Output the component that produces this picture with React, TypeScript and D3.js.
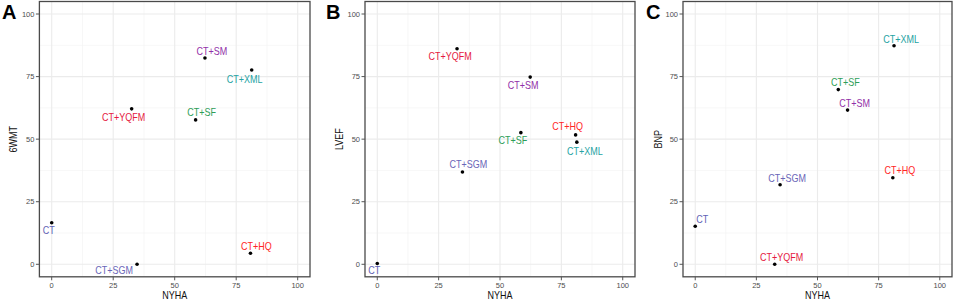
import React from "react";
import * as d3 from "d3";

const groups = ["CT", "CT+SGM", "CT+HQ", "CT+YQFM", "CT+SF", "CT+SM", "CT+XML"];
const groupColors = ["#6262B5", "#6A66B8", "#FF2626", "#E5193F", "#2E9E58", "#9230A8", "#25A3A3"];
const nyha = [0, 34.7, 80.8, 32.5, 58.5, 62.3, 81.3];
const sixMWT = [16.6, 0, 4.4, 62.1, 57.7, 82.4, 77.6];
const lvef = [0.3, 36.9, 51.7, 86.1, 52.6, 74.8, 48.8];
const bnp = [15.2, 31.8, 34.6, 0, 69.8, 61.6, 87.3];
const ticks = [0, 25, 50, 75, 100];
const minorTicks = [12.5, 37.5, 62.5, 87.5];

// label nudges in pixels (layout only)
const nudgeA: [number, number][] = [[-3, 8], [-23, 6], [6, -7], [-8, 9], [6, -7], [7, -7], [-7, 9]];
const nudgeB: [number, number][] = [[-3, 7], [6, -7], [-8, -8], [-7, 8], [-8, 8], [-7, 8], [8, 9]];
const nudgeC: [number, number][] = [[7, -7], [7, -6], [7, -7], [7, -7], [7, -7], [7, -7], [7, -6]];

const panels = [
  { letter: "A", yTitle: "6WMT", values: sixMWT, nudge: nudgeA, left: 39.4, right: 310, letterX: 2, titleX: 13 },
  { letter: "B", yTitle: "LVEF", values: lvef, nudge: nudgeB, left: 365, right: 635, letterX: 326, titleX: 339 },
  { letter: "C", yTitle: "BNP", values: bnp, nudge: nudgeC, left: 683, right: 952, letterX: 646, titleX: 658 },
];

const top = 1.5;
const bottom = 276.8;
const font = "Liberation Sans, Arial, sans-serif";
const sx = 0.9;

function Panel({ p }: { p: typeof panels[number] }) {
  const x = d3.scaleLinear().domain([-5, 105]).range([p.left, p.right]);
  const y = d3.scaleLinear().domain([-5, 105]).range([bottom, top]);
  return (
    <g>
      <rect x={p.left} y={top} width={p.right - p.left} height={bottom - top} fill="#fff" />
      {minorTicks.map((t) => (
        <g key={"m" + t}>
          <line x1={x(t)} x2={x(t)} y1={top} y2={bottom} stroke="#F2F2F2" strokeWidth={0.6} />
          <line x1={p.left} x2={p.right} y1={y(t)} y2={y(t)} stroke="#F2F2F2" strokeWidth={0.6} />
        </g>
      ))}
      {ticks.map((t) => (
        <g key={"M" + t}>
          <line x1={x(t)} x2={x(t)} y1={top} y2={bottom} stroke="#EBEBEB" strokeWidth={1.1} />
          <line x1={p.left} x2={p.right} y1={y(t)} y2={y(t)} stroke="#EBEBEB" strokeWidth={1.1} />
        </g>
      ))}
      <rect x={p.left} y={top} width={p.right - p.left} height={bottom - top} fill="none" stroke="#4A4A4A" strokeWidth={1.3} />
      {ticks.map((t) => (
        <g key={"t" + t}>
          <line x1={p.left - 3.5} x2={p.left} y1={y(t)} y2={y(t)} stroke="#555" strokeWidth={1} />
          <text x={p.left - 5} y={y(t)} dy="0.35em" textAnchor="end" fontSize={7.5} fill="#4D4D4D" fontFamily={font}>{t}</text>
          <line x1={x(t)} x2={x(t)} y1={bottom} y2={bottom + 3.5} stroke="#555" strokeWidth={1} />
          <text x={x(t)} y={bottom + 8.5} dy="0.35em" textAnchor="middle" fontSize={7.5} fill="#4D4D4D" fontFamily={font}>{t}</text>
        </g>
      ))}
      <text transform={`translate(${(p.left + p.right) / 2},295) scale(${sx},1)`} dy="0.35em" textAnchor="middle" fontSize={10} fill="#111" fontFamily={font}>NYHA</text>
      <text transform={`translate(${p.titleX},${(top + bottom) / 2}) rotate(-90) scale(${sx},1)`} dy="0.35em" textAnchor="middle" fontSize={10} fill="#111" fontFamily={font}>{p.yTitle}</text>
      <text x={p.letterX} y={19} fontSize={20} fontWeight="bold" fill="#000" fontFamily={font}>{p.letter}</text>
      {groups.map((g, i) => (
        <g key={g}>
          <circle cx={x(nyha[i])} cy={y(p.values[i])} r={1.8} fill="#000" />
          <text transform={`translate(${x(nyha[i]) + p.nudge[i][0]},${y(p.values[i]) + p.nudge[i][1]}) scale(${sx},1)`} dy="0.35em" textAnchor="middle" fontSize={10} fill={groupColors[i]} fontFamily={font}>{g}</text>
        </g>
      ))}
    </g>
  );
}

export default function App() {
  return (
    <svg width={955} height={300} style={{ position: "absolute", left: 0, top: 0, background: "#fff" }}>
      <rect width={955} height={300} fill="#fff" />
      {panels.map((p) => (
        <Panel key={p.letter} p={p} />
      ))}
    </svg>
  );
}
